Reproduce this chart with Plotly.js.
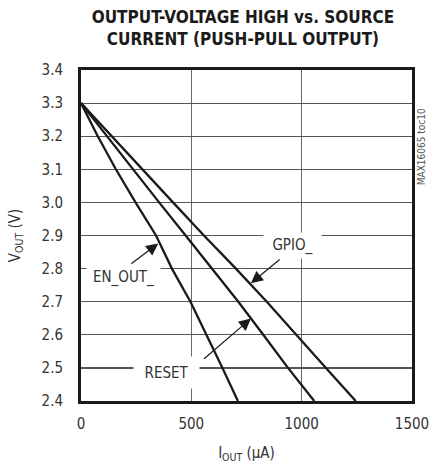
<!DOCTYPE html>
<html>
<head>
<meta charset="utf-8">
<script src="https://cdn.plot.ly/plotly-3.0.1.min.js"></script>
<style>html,body{margin:0;padding:0;background:#fff;}#chart{width:430px;height:464px;}</style>
</head>
<body>
<div id="chart"></div>
<script>
// Output voltage (V) levels read at each gridline
const voutLevels = [3.3, 3.2, 3.1, 3.0, 2.9, 2.8, 2.7, 2.6, 2.5, 2.4];
// Source current (uA) for each series at those voltages
const enOutCurrent = [0, 76, 158, 247, 340, 412, 496, 570, 641, 711];
const resetCurrent = [0, 117, 238, 354, 474, 592, 713, 826, 938, 1057];
const gpioCurrent  = [0, 138, 278, 417, 557, 702, 842, 974, 1110, 1245];

const xTicks = [0, 500, 1000, 1500];
const yTicks = [2.4, 2.5, 2.6, 2.7, 2.8, 2.9, 3.0, 3.1, 3.2, 3.3, 3.4];

const narrow = '"Liberation Sans Narrow", "DejaVu Sans Condensed", "Liberation Sans", sans-serif';
const lineStyle = {color: '#1a1a1a', width: 2.3};

const traces = [
  {x: enOutCurrent, y: voutLevels, mode: 'lines', line: lineStyle, name: 'EN_OUT_'},
  {x: resetCurrent, y: voutLevels, mode: 'lines', line: lineStyle, name: 'RESET'},
  {x: gpioCurrent,  y: voutLevels, mode: 'lines', line: lineStyle, name: 'GPIO_'}
];

const labelFont = {family: narrow, size: 15, color: '#333'};
function label(text, x, y, w, h) {
  return {text: text, x: x, y: y, xref: 'x', yref: 'y', showarrow: false,
          bgcolor: '#fff', width: w, height: h, borderpad: 0, font: labelFont};
}
function arrow(x, y, ax, ay) {
  return {text: ' ', x: x, y: y, ax: ax, ay: ay, xref: 'x', yref: 'y', axref: 'x', ayref: 'y',
          showarrow: true, arrowhead: 2, arrowsize: 2, arrowwidth: 1.2, arrowcolor: '#1a1a1a', standoff: 0,
          font: {size: 1}};
}

const layout = {
  width: 430, height: 464,
  margin: {l: 81, r: 18, t: 70, b: 63},
  paper_bgcolor: '#fff', plot_bgcolor: '#fff',
  showlegend: false,
  title: {
    text: '<b>OUTPUT-VOLTAGE HIGH vs. SOURCE<br>CURRENT (PUSH-PULL OUTPUT)</b>',
    font: {family: narrow, size: 17, color: '#1a1a1a'},
    xref: 'container', x: 0.565, xanchor: 'center',
    yref: 'container', y: 0.95, yanchor: 'top'
  },
  xaxis: {
    range: [0, 1500], tickvals: xTicks, ticks: '', ticklabelstandoff: 7,
    showgrid: true, gridcolor: '#666', gridwidth: 1,
    showline: true, mirror: true, linecolor: '#1a1a1a', linewidth: 3,
    zeroline: false, tickfont: {family: narrow, size: 15, color: '#333'},
    title: {text: 'I<sub>OUT</sub> (µA)', font: {family: narrow, size: 15, color: '#333'}, standoff: 16}
  },
  yaxis: {
    range: [2.4, 3.4], tickvals: yTicks, ticktext: yTicks.map(v => v.toFixed(1)), ticks: '', ticklabelstandoff: 12,
    showgrid: true, gridcolor: '#555', gridwidth: 1.2,
    showline: true, mirror: true, linecolor: '#1a1a1a', linewidth: 3,
    zeroline: false, tickfont: {family: narrow, size: 15, color: '#333'},
    title: {text: 'V<sub>OUT</sub> (V)', font: {family: narrow, size: 15, color: '#333'}, standoff: 18}
  },
  annotations: [
    label('GPIO_', 960, 2.871, 57, 25),
    label('RESET', 388, 2.486, 65, 31),
    label('EN_OUT_', 192, 2.772, 73, 27),
    arrow(770, 2.756, 907, 2.831),
    arrow(770, 2.649, 551, 2.524),
    arrow(350, 2.876, 221, 2.811),
    {text: 'MAX16065 toc10', xref: 'paper', yref: 'paper', x: 1.052, y: 0.891,
     showarrow: false, textangle: -90, font: {family: narrow, size: 10, color: '#555'}}
  ]
};

Plotly.newPlot('chart', traces, layout, {displayModeBar: false, staticPlot: true});
</script>
</body>
</html>
